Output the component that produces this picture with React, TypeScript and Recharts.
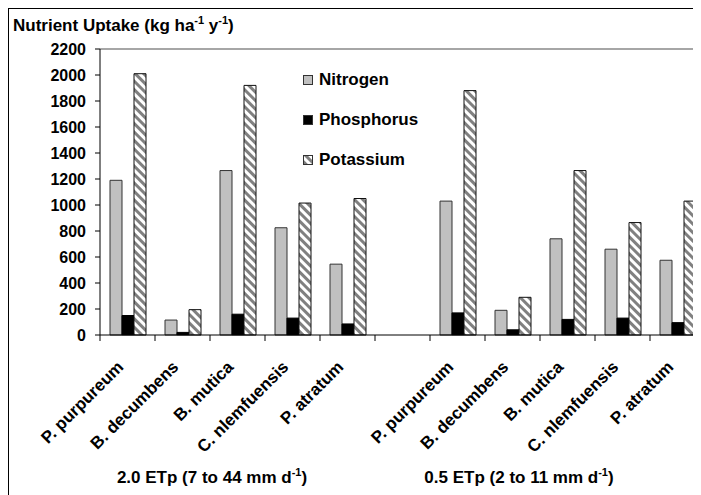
import React from "react";
import { Bar, BarChart, ReferenceLine, XAxis, YAxis } from "recharts";

const species = [
  "P. purpureum",
  "B. decumbens",
  "B. mutica",
  "C. nlemfuensis",
  "P. atratum",
  "",
  "P. purpureum",
  "B. decumbens",
  "B. mutica",
  "C. nlemfuensis",
  "P. atratum",
];

const nitrogen = [1190, 115, 1265, 825, 545, null, 1030, 190, 740, 660, 575];
const phosphorus = [150, 20, 160, 130, 85, null, 170, 40, 120, 130, 95];
const potassium = [2010, 195, 1920, 1015, 1050, null, 1880, 290, 1265, 865, 1030];

const yTicks = [0, 200, 400, 600, 800, 1000, 1200, 1400, 1600, 1800, 2000, 2200];

const groupLabels = [
  { text: "2.0 ETp (7 to 44 mm d", x: 211 },
  { text: "0.5 ETp (2 to 11 mm d", x: 518 },
];

const data = species.map((name, i) => ({
  name,
  nitrogen: nitrogen[i],
  phosphorus: phosphorus[i],
  potassium: potassium[i],
}));

const FONT = "'Liberation Sans', Arial, sans-serif";

function SpeciesTick({ x, y, payload }: any) {
  const half = payload?.offset ?? 27.5;
  return (
    <g>
      <line x1={x - half} x2={x - half} y1={y} y2={y + 6} stroke="#000" />
      {payload.value ? (
        <text
          transform={`translate(${x - 3},${y + 33}) rotate(-45)`}
          textAnchor="end"
          fontFamily={FONT}
          fontWeight="bold"
          fontSize={17}
          fill="#000"
        >
          {payload.value}
        </text>
      ) : null}
    </g>
  );
}

const legendItems = [
  { label: "Nitrogen", fill: "#c0c0c0", top: 70 },
  { label: "Phosphorus", fill: "#000", top: 110 },
  { label: "Potassium", fill: "url(#stripes)", top: 150 },
];

export default function App() {
  return (
    <div
      style={{
        position: "relative",
        width: 693,
        height: 487,
        overflow: "hidden",
        borderTop: "1px solid #000",
        borderLeft: "1px solid #000",
        boxSizing: "border-box",
        fontFamily: FONT,
        background: "#fff",
      }}
    >
      <svg width={0} height={0} style={{ position: "absolute" }}>
        <defs>
          <pattern
            id="stripes"
            width={6}
            height={6}
            patternUnits="userSpaceOnUse"
            patternTransform="rotate(-45)"
          >
            <rect width={6} height={6} fill="#fff" />
            <rect width={3} height={6} fill="#808080" />
          </pattern>
        </defs>
      </svg>
      <div style={{ position: "absolute", left: -1, top: -1 }}>
        <BarChart
          width={697}
          height={488}
          data={data}
          margin={{ top: 41, right: 0, left: 0, bottom: 0 }}
          barSize={12}
          barGap={0}
        >
          <ReferenceLine y={2200} stroke="#888" strokeWidth={1.5} />
          <XAxis
            dataKey="name"
            interval={0}
            height={161}
            tickSize={0}
            tickMargin={0}
            tickLine={false}
            axisLine={{ stroke: "#000" }}
            tick={<SpeciesTick />}
          />
          <YAxis
            width={92}
            domain={[0, 2200]}
            ticks={yTicks}
            interval={0}
            tickSize={5}
            tickMargin={9}
            axisLine={{ stroke: "#000" }}
            tickLine={{ stroke: "#000" }}
            tick={{ fontFamily: FONT, fontWeight: "bold", fontSize: 16, fill: "#000" }}
          />
          <Bar dataKey="nitrogen" fill="#c0c0c0" stroke="#333" isAnimationActive={false} />
          <Bar dataKey="phosphorus" fill="#000" stroke="#000" isAnimationActive={false} />
          <Bar dataKey="potassium" fill="url(#stripes)" stroke="#111" isAnimationActive={false} />
        </BarChart>
      </div>

      <div
        style={{
          position: "absolute",
          left: 4,
          top: 5,
          fontWeight: "bold",
          fontSize: 17,
          whiteSpace: "nowrap",
        }}
      >
        Nutrient Uptake (kg ha<sup style={{ fontSize: 11 }}>-1</sup> y<sup style={{ fontSize: 11 }}>-1</sup>)
      </div>

      {legendItems.map((it) => (
        <div
          key={it.label}
          style={{
            position: "absolute",
            left: 294,
            top: it.top - 9,
            display: "flex",
            alignItems: "center",
            fontWeight: "bold",
            fontSize: 17,
          }}
        >
          <svg width={10} height={10} style={{ marginRight: 6 }}>
            <rect x={0.5} y={0.5} width={9} height={9} fill={it.fill} stroke="#333" />
          </svg>
          {it.label}
        </div>
      ))}

      {groupLabels.map((g) => (
        <div
          key={g.text}
          style={{
            position: "absolute",
            left: g.x - 8,
            top: 457,
            transform: "translateX(-50%)",
            fontWeight: "bold",
            fontSize: 17,
            whiteSpace: "nowrap",
          }}
        >
          {g.text}
          <sup style={{ fontSize: 11 }}>-1</sup>)
        </div>
      ))}
    </div>
  );
}
